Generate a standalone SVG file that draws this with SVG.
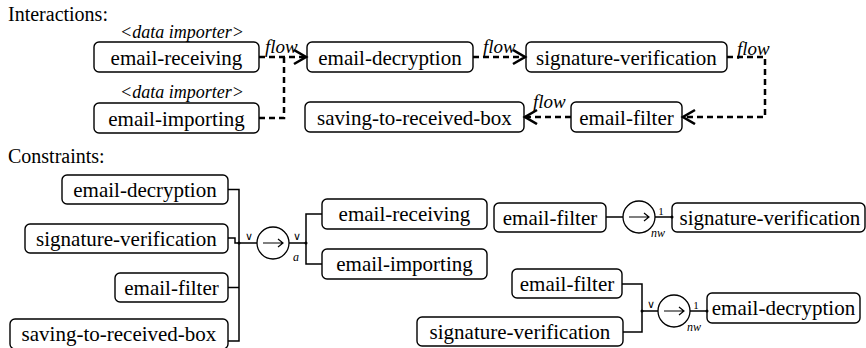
<svg xmlns="http://www.w3.org/2000/svg" width="866" height="348" viewBox="0 0 866 348">
<style>
.box{fill:#fff;stroke:#000;stroke-width:1.4}
.dash{fill:none;stroke:#000;stroke-width:2.5;stroke-dasharray:6 4}
.ln{fill:none;stroke:#000;stroke-width:1.5}
.circ{fill:#fff;stroke:#000;stroke-width:1.3}
.arw{fill:none;stroke:#000;stroke-width:1.2}
</style>
<defs>
<marker id="arr" markerUnits="userSpaceOnUse" markerWidth="16" markerHeight="18" refX="13" refY="8" orient="auto">
<path d="M1,1 L13,8 L1,15" fill="none" stroke="#000" stroke-width="2.6"/>
</marker>
</defs>
<text font-family="Liberation Serif, serif" font-size="20" x="8" y="21">Interactions:</text>
<text font-family="Liberation Serif, serif" font-size="20" x="8" y="163">Constraints:</text>

<g id="i-email-receiving">
<text font-family="Liberation Serif, serif" font-size="18" font-style="italic" text-anchor="middle" x="182" y="38">&lt;data importer&gt;</text>
<rect class="box" x="94" y="42" width="165" height="30" rx="5"/>
<text font-family="Liberation Serif, serif" font-size="21" text-anchor="middle" x="176.5" y="65">email-receiving</text>
</g>
<g id="i-email-importing">
<text font-family="Liberation Serif, serif" font-size="18" font-style="italic" text-anchor="middle" x="182" y="98">&lt;data importer&gt;</text>
<rect class="box" x="94" y="103" width="165" height="30" rx="5"/>
<text font-family="Liberation Serif, serif" font-size="21" text-anchor="middle" x="176.5" y="126">email-importing</text>
</g>
<g id="i-email-decryption">
<rect class="box" x="307" y="42" width="166" height="30" rx="5"/>
<text font-family="Liberation Serif, serif" font-size="21" text-anchor="middle" x="390" y="65">email-decryption</text>
</g>
<g id="i-signature-verification">
<rect class="box" x="526" y="42" width="201" height="30" rx="5"/>
<text font-family="Liberation Serif, serif" font-size="21" text-anchor="middle" x="626.5" y="65">signature-verification</text>
</g>
<g id="i-email-filter">
<rect class="box" x="571" y="102" width="111" height="30" rx="5"/>
<text font-family="Liberation Serif, serif" font-size="21" text-anchor="middle" x="626.5" y="125">email-filter</text>
</g>
<g id="i-saving">
<rect class="box" x="305" y="102" width="219" height="30" rx="5"/>
<text font-family="Liberation Serif, serif" font-size="21" text-anchor="middle" x="414.5" y="125">saving-to-received-box</text>
</g>

<g id="interaction-connectors">
<path class="dash" d="M259,57 H306" marker-end="url(#arr)"/>
<path class="dash" d="M259,118 H284 V57"/>
<path class="dash" d="M473,57 H525" marker-end="url(#arr)"/>
<path class="dash" d="M727,57 H765 V117 H683" marker-end="url(#arr)"/>
<path class="dash" d="M571,117 H525" marker-end="url(#arr)"/>
<text font-family="Liberation Serif, serif" font-size="19" font-style="italic" x="265" y="53">flow</text>
<text font-family="Liberation Serif, serif" font-size="19" font-style="italic" x="483" y="53">flow</text>
<text font-family="Liberation Serif, serif" font-size="19" font-style="italic" x="737" y="55">flow</text>
<text font-family="Liberation Serif, serif" font-size="19" font-style="italic" x="533" y="108">flow</text>
</g>

<g id="c1-email-decryption">
<rect class="box" x="62" y="175" width="166" height="29" rx="5"/>
<text font-family="Liberation Serif, serif" font-size="21" text-anchor="middle" x="145" y="197">email-decryption</text>
</g>
<g id="c1-signature-verification">
<rect class="box" x="25" y="224" width="203" height="29" rx="5"/>
<text font-family="Liberation Serif, serif" font-size="21" text-anchor="middle" x="126.5" y="246">signature-verification</text>
</g>
<g id="c1-email-filter">
<rect class="box" x="115" y="273" width="113" height="29" rx="5"/>
<text font-family="Liberation Serif, serif" font-size="21" text-anchor="middle" x="171.5" y="295">email-filter</text>
</g>
<g id="c1-saving">
<rect class="box" x="10" y="319" width="218" height="30" rx="5"/>
<text font-family="Liberation Serif, serif" font-size="21" text-anchor="middle" x="119" y="341">saving-to-received-box</text>
</g>
<g id="c1-op">
<circle class="circ" cx="273" cy="243" r="16"/>
<path class="arw" d="M263,243 H283 M278,239 L283,243 L278,247"/>
<text font-family="Liberation Serif, serif" font-size="11" text-anchor="middle" x="249" y="240">∨</text>
<text font-family="Liberation Serif, serif" font-size="11" text-anchor="middle" x="297" y="240">∨</text>
<text font-family="Liberation Serif, serif" font-size="12" font-style="italic" text-anchor="middle" x="296" y="261">a</text>
</g>
<g id="c1-email-receiving">
<rect class="box" x="322" y="199" width="165" height="30" rx="5"/>
<text font-family="Liberation Serif, serif" font-size="21" text-anchor="middle" x="404.5" y="221">email-receiving</text>
</g>
<g id="c1-email-importing">
<rect class="box" x="322" y="249" width="165" height="30" rx="5"/>
<text font-family="Liberation Serif, serif" font-size="21" text-anchor="middle" x="404.5" y="271">email-importing</text>
</g>

<g id="c2-email-filter">
<rect class="box" x="494" y="203" width="112" height="29" rx="5"/>
<text font-family="Liberation Serif, serif" font-size="21" text-anchor="middle" x="550" y="225">email-filter</text>
</g>
<g id="c2-op">
<circle class="circ" cx="639" cy="217" r="16"/>
<path class="arw" d="M629,217 H649 M644,213 L649,217 L644,221"/>
<text font-family="Liberation Serif, serif" font-size="11" text-anchor="middle" x="661" y="215">1</text>
<text font-family="Liberation Serif, serif" font-size="12" font-style="italic" text-anchor="middle" x="658" y="237">nw</text>
</g>
<g id="c2-signature-verification">
<rect class="box" x="672" y="203" width="193" height="29" rx="5"/>
<text font-family="Liberation Serif, serif" font-size="21" text-anchor="middle" x="770" y="225">signature-verification</text>
</g>

<g id="c3-email-filter">
<rect class="box" x="512" y="269" width="110" height="29" rx="5"/>
<text font-family="Liberation Serif, serif" font-size="21" text-anchor="middle" x="567" y="291">email-filter</text>
</g>
<g id="c3-signature-verification">
<rect class="box" x="417" y="317" width="206" height="29" rx="5"/>
<text font-family="Liberation Serif, serif" font-size="21" text-anchor="middle" x="520" y="339">signature-verification</text>
</g>
<g id="c3-op">
<circle class="circ" cx="674" cy="311" r="16"/>
<path class="arw" d="M664,311 H684 M679,307 L684,311 L679,315"/>
<text font-family="Liberation Serif, serif" font-size="11" text-anchor="middle" x="651" y="308">∨</text>
<text font-family="Liberation Serif, serif" font-size="11" text-anchor="middle" x="696" y="309">1</text>
<text font-family="Liberation Serif, serif" font-size="12" font-style="italic" text-anchor="middle" x="694" y="331">nw</text>
</g>
<g id="c3-email-decryption">
<rect class="box" x="707" y="293" width="153" height="30" rx="5"/>
<text font-family="Liberation Serif, serif" font-size="21" text-anchor="middle" x="783.5" y="315">email-decryption</text>
</g>

<g id="constraint-connectors">
<path class="ln" d="M228,189.5 H239 V341 H228"/>
<path class="ln" d="M228,238 H235 V243 H257"/>
<path class="ln" d="M228,287.5 H239"/>
<path class="ln" d="M289,243 H306 M322,214 H306 V264 H322"/>
<path class="ln" d="M606,217 H623 M655,217 H672"/>
<path class="ln" d="M622,284 H642 V332 H623 M642,311 H658 M690,311 H707"/>
<circle cx="239" cy="243" r="1.5"/>
<circle cx="306" cy="243" r="1.5"/>
<circle cx="672" cy="217" r="1.5"/>
<circle cx="642" cy="311" r="1.5"/>
<circle cx="707" cy="311" r="1.5"/>
</g>
</svg>
